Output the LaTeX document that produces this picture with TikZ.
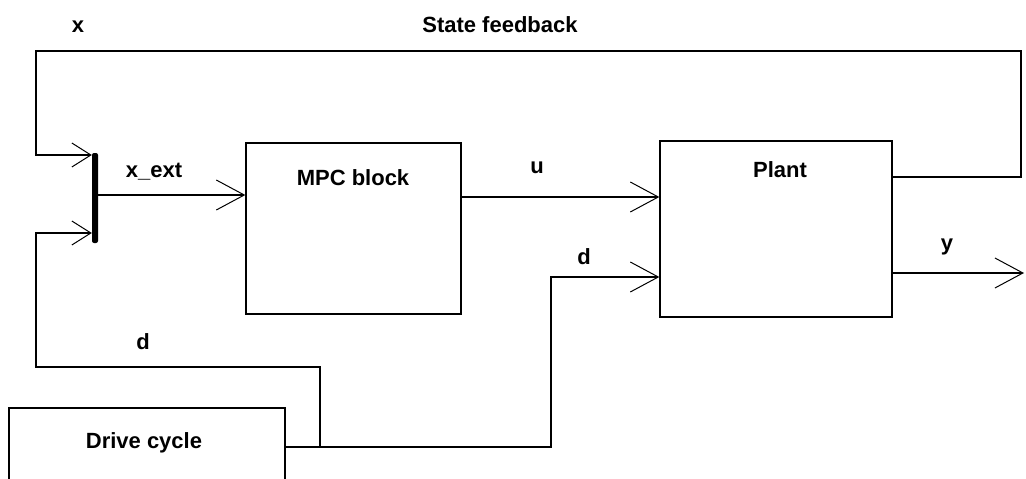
\documentclass[tikz,border=0pt]{standalone}
\usepackage{fontspec}
\setmainfont{Liberation Sans}
\usetikzlibrary{arrows.meta,calc}
\begin{document}
\begin{tikzpicture}[x=1pt,y=-1pt,
  wire/.style={line width=1.3pt},
  blk/.style={draw,line width=1.3pt,rectangle,inner sep=0pt},
  lbl/.style={font=\fontsize{22}{25}\selectfont\bfseries,inner sep=0pt},
  tip/.style={-{Straight Barb[length=28pt,width=30pt,line width=1pt]}},
  smalltip/.style={-{Straight Barb[length=19pt,width=24pt,line width=1pt]}}]
\useasboundingbox (0,0) rectangle (1026,479);
\fill[white] (0,0) rectangle (1026,479);
% blocks
\node[blk,minimum width=215pt,minimum height=171pt] (mpc) at (353.5,228.5) {};
\node[blk,minimum width=232pt,minimum height=176pt] (plant) at (776,229) {};
\node[blk,minimum width=276pt,minimum height=104pt] (dc) at (147,460) {};
\node[fill=black,rounded corners=2pt,inner sep=0pt,minimum width=6pt,minimum height=90pt] (bar) at (95,198) {};
% labels
\node[lbl] (lx) at (78,27) {x};
\node[lbl] (lsf) at (500,25) {State feedback};
\node[lbl] (lxe) at (154,172) {x\_ext};
\node[lbl] (lmpc) at (353,178) {MPC block};
\node[lbl] (lu) at (537,168) {u};
\node[lbl] (lplant) at (780,170) {Plant};
\node[lbl] (ld1) at (584,257) {d};
\node[lbl] (ly) at (947,247) {y};
\node[lbl] (ld2) at (143,342) {d};
\node[lbl] (ldc) at (144,443) {Drive cycle};
% coordinates
\coordinate (j) at (320,447);
\coordinate (yout) at (1024,273);
% connectors
\draw[wire,tip] (bar.east |- 0,195) -- (mpc.west |- 0,195);
\draw[wire,tip] (mpc.east |- 0,197) -- (plant.west |- 0,197);
\draw[wire,smalltip] (plant.east |- 0,177) -- (1021,177) -- (1021,51) -- (36,51) -- (36,155) -- (bar.west |- 0,155);
\draw[wire,tip] (plant.east |- yout) -- (yout);
\draw[wire] (dc.east |- j) -- (j);
\draw[wire,tip] (j) -- (551,447) -- (551,277) -- (plant.west |- 0,277);
\draw[wire,smalltip] (j) -- (320,367) -- (36,367) -- (36,233) -- (bar.west |- 0,233);
\end{tikzpicture}
\end{document}
